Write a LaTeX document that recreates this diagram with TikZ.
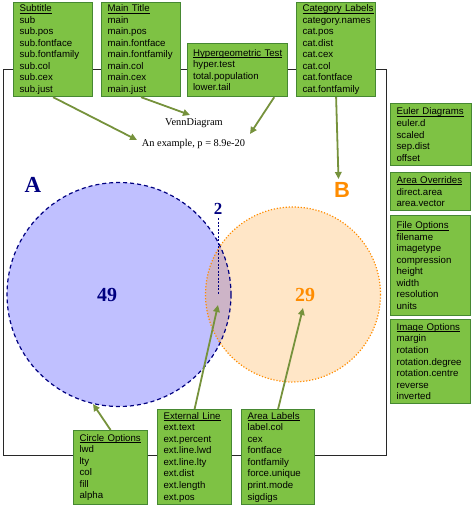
\documentclass[tikz,border=0pt]{standalone}
\usepackage{fontspec}
\setmainfont{Liberation Serif}
\setsansfont{Liberation Sans}
\usetikzlibrary{arrows.meta,calc}
\definecolor{boxfill}{RGB}{126,194,68}
\definecolor{boxline}{RGB}{70,136,50}
\definecolor{arrowcol}{RGB}{118,146,60}
\definecolor{navyc}{RGB}{0,0,128}
\definecolor{orangec}{RGB}{255,140,0}
\definecolor{afill}{RGB}{192,192,255}
\definecolor{framec}{RGB}{40,40,40}
\newcommand{\hdr}[1]{\leavevmode\hbox{\setbox0=\hbox{#1}\rlap{\rule[-1.6bp]{\wd0}{0.6bp}}\box0}}
\tikzset{
  optbox/.style={draw=boxline, fill=boxfill, line width=1.2bp, anchor=north west,
    inner xsep=6bp, inner ysep=0.5bp, align=left,
    font=\sffamily\fontsize{9.7}{11.6}\selectfont},
  pointer/.style={draw=arrowcol, line width=1.8bp, -{Triangle[length=7bp,width=6.5bp]}},
}
\begin{document}
\begin{tikzpicture}[x=1bp,y=-1bp]
\useasboundingbox (0,0) rectangle (472,506);
% frame
\draw[framec, line width=0.9bp] (3,69) rectangle (386,455);
% circles
\fill[afill] (119,294.5) circle (112);
\fill[orangec, fill opacity=0.22] (293,294.5) circle (87.5);
\draw[navyc, line width=1.2bp, dash pattern=on 4bp off 3bp] (119,294.5) circle (112);
\draw[orangec, line width=1.2bp, dash pattern=on 1.2bp off 1.8bp] (293,294.5) circle (87.5);
% labels
\node[anchor=base, inner sep=0, font=\rmfamily\bfseries\fontsize{23}{23}\selectfont, text=navyc] (lA) at (33,193) {A};
\node[anchor=base, inner sep=0, font=\sffamily\bfseries\fontsize{22}{22}\selectfont, text=orangec] (lB) at (342,198) {B};
\node[anchor=base, inner sep=0, font=\rmfamily\bfseries\fontsize{17}{17}\selectfont, text=navyc] (l2) at (218,214) {2};
\node[anchor=base, inner sep=0, font=\rmfamily\bfseries\fontsize{20}{20}\selectfont, text=navyc] (l49) at (107,301) {49};
\node[anchor=base, inner sep=0, font=\rmfamily\bfseries\fontsize{20}{20}\selectfont, text=orangec] (l29) at (305,301) {29};
\coordinate (dtop) at (218,218);
\coordinate (dbot) at (218,295);
\draw[navyc, line width=0.6bp, dash pattern=on 2bp off 1.5bp] (dtop) -- (dbot);
% titles
\node[anchor=base, inner sep=0, font=\rmfamily\fontsize{10.4}{12}\selectfont] (main) at (194,126) {VennDiagram};
\node[anchor=base, inner sep=0, font=\rmfamily\fontsize{10.4}{12}\selectfont] (subt) at (193.5,147) {An example, p = 8.9e-20};
% boxes
\node[optbox, text width=67bp, minimum width=79bp, minimum height=94bp] (bsub) at (13,2)
 {\hdr{Subtitle}\\sub\\sub.pos\\sub.fontface\\sub.fontfamily\\sub.col\\sub.cex\\sub.just};
\node[optbox, text width=67bp, minimum width=79bp, minimum height=94bp] (bmain) at (101,2)
 {\hdr{Main Title}\\main\\main.pos\\main.fontface\\main.fontfamily\\main.col\\main.cex\\main.just};
\node[optbox, text width=89bp, minimum width=100bp, minimum height=53bp, inner xsep=5.5bp] (bhyp) at (187,43)
 {\hdr{Hypergeometric Test}\\hyper.test\\total.population\\lower.tail};
\node[optbox, text width=67bp, minimum width=79bp, minimum height=94bp] (bcat) at (296,2)
 {\hdr{Category Labels}\\category.names\\cat.pos\\cat.dist\\cat.cex\\cat.col\\cat.fontface\\cat.fontfamily};
\node[optbox, text width=69bp, minimum width=81bp, minimum height=62bp] (beul) at (390,103)
 {\hdr{Euler Diagrams}\\euler.d\\scaled\\sep.dist\\offset};
\node[optbox, text width=68bp, minimum width=80bp, minimum height=38bp] (bare) at (390,172)
 {\hdr{Area Overrides}\\direct.area\\area.vector};
\node[optbox, text width=68bp, minimum width=80bp, minimum height=100bp] (bfil) at (390,215)
 {\hdr{File Options}\\filename\\imagetype\\compression\\height\\width\\resolution\\units};
\node[optbox, text width=68bp, minimum width=80bp, minimum height=84bp] (bimg) at (390,319)
 {\hdr{Image Options}\\margin\\rotation\\rotation.degree\\rotation.centre\\reverse\\inverted};
\node[optbox, text width=62bp, minimum width=74bp, minimum height=74bp] (bcir) at (73,430)
 {\hdr{Circle Options}\\lwd\\lty\\col\\fill\\alpha};
\node[optbox, text width=62bp, minimum width=74bp, minimum height=95bp] (bext) at (157,409)
 {\hdr{External Line}\\ext.text\\ext.percent\\ext.line.lwd\\ext.line.lty\\ext.dist\\ext.length\\ext.pos};
\node[optbox, text width=61bp, minimum width=73bp, minimum height=95bp] (blab) at (241,409)
 {\hdr{Area Labels}\\label.col\\cex\\fontface\\fontfamily\\force.unique\\print.mode\\sigdigs};
% arrow targets
\coordinate (tsub) at (137,140);
\coordinate (tmain) at (190,115);
\coordinate (thyp) at (250,134);
\coordinate (tcat) at (338.5,179);
\coordinate (tcir) at (93,404);
\coordinate (text) at (218,305);
\coordinate (tlab) at (303,308);
\draw[pointer] (bsub.south) -- (tsub);
\draw[pointer] (bmain.south) -- (tmain);
\draw[pointer] ($(bhyp.south east)+(-14,0)$) -- (thyp);
\draw[pointer] (bcat.south) -- (tcat);
\draw[pointer] (bcir.north) -- (tcir);
\draw[pointer] (bext.north) -- (text);
\draw[pointer] (blab.north) -- (tlab);
\end{tikzpicture}
\end{document}
